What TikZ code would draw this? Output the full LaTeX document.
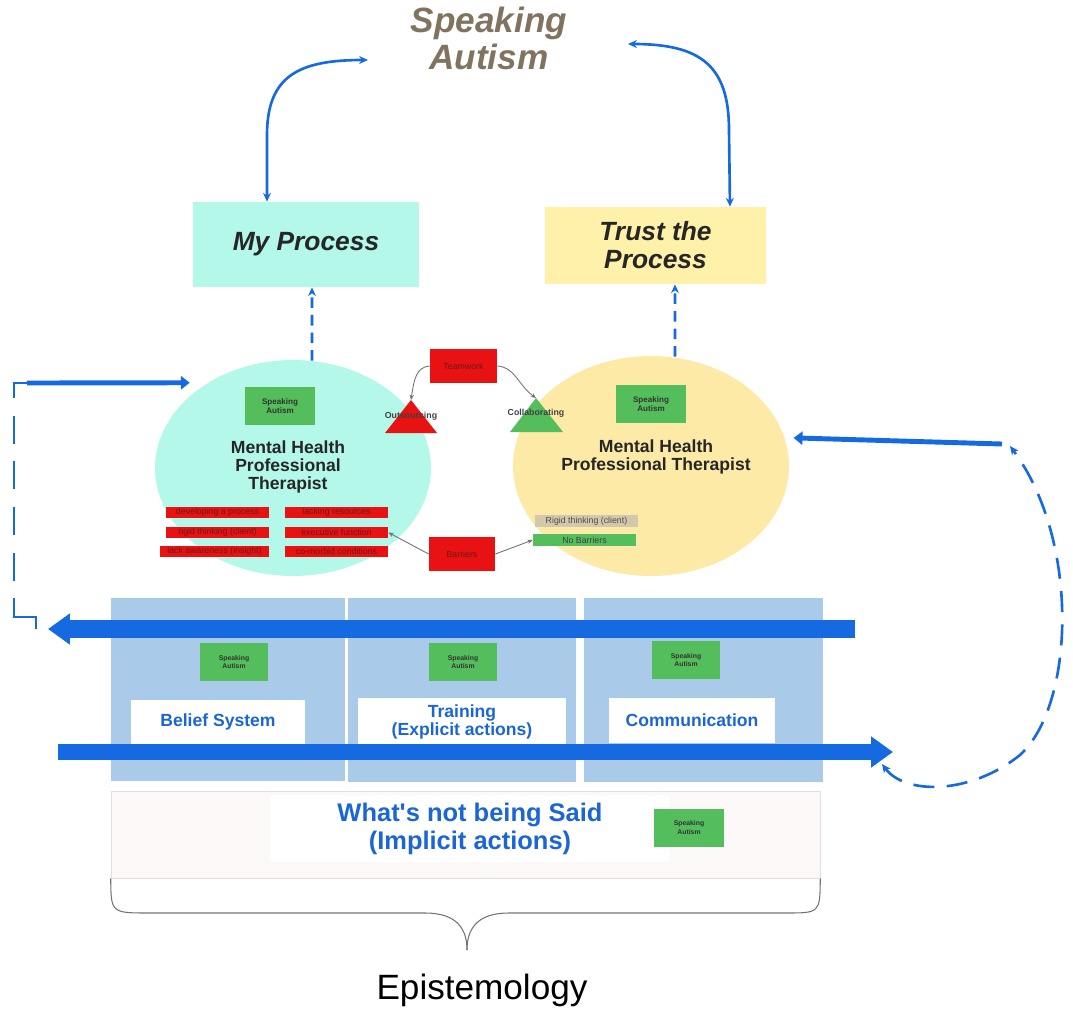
\documentclass[tikz,border=0pt]{standalone}
\usepackage{fontspec}
\setmainfont{Liberation Sans}
\usepackage{xcolor}
\usepackage{tikz}
\usetikzlibrary{arrows.meta,positioning,shapes.geometric,calc}

\definecolor{arrblue}{RGB}{22,106,225}
\definecolor{panelblue}{RGB}{169,203,233}
\definecolor{txtblue}{RGB}{26,102,214}
\definecolor{aqua}{RGB}{180,248,234}
\definecolor{sand}{RGB}{252,234,166}
\definecolor{sandbox}{RGB}{255,240,170}
\definecolor{leaf}{RGB}{84,190,92}
\definecolor{tagred}{RGB}{232,18,18}
\definecolor{tagtext}{RGB}{110,22,22}
\definecolor{khaki}{RGB}{212,200,172}
\definecolor{titlebrown}{RGB}{128,115,95}
\definecolor{pinkwash}{RGB}{252,248,248}

\begin{document}
\begin{tikzpicture}[
    x=0.02cm, y=-0.02cm,
    procbox/.style={rectangle, minimum width=4.52cm, minimum height=1.7cm, align=center, text=black!85, font=\fontsize{15}{16}\selectfont\bfseries\itshape},
    blob/.style={ellipse, minimum width=5.52cm, minimum height=4.32cm},
    sabox/.style={rectangle, fill=leaf, minimum width=1.4cm, minimum height=0.76cm, inner sep=0pt, align=center, text=black!80, font=\fontsize{4.6}{5.2}\selectfont\bfseries},
    tag/.style={rectangle, fill=tagred, minimum width=2.06cm, minimum height=0.22cm, inner sep=0pt, text=tagtext, font=\fontsize{5}{5}\selectfont},
    redbox/.style={rectangle, fill=tagred, minimum width=1.34cm, minimum height=0.68cm, text=tagtext, font=\fontsize{5}{6}\selectfont},
    mhp/.style={align=center, text=black!85, font=\fontsize{10}{10.3}\selectfont\bfseries},
    panel/.style={rectangle, fill=panelblue, minimum height=3.68cm},
    plate/.style={rectangle, fill=white, align=center, text=txtblue, font=\fontsize{10}{10.3}\selectfont\bfseries},
    tri/.style={font=\fontsize{5}{6}\selectfont\bfseries, text=black!75},
    pointer/.style={-{Stealth[length=3pt, width=2.5pt]}, draw=black!55, line width=0.5pt},
    bigarr/.style={draw=arrblue, line width=10pt, -{Triangle[length=12.5pt, width=17pt]}},
    midarr/.style={draw=arrblue, line width=2.8pt, -{Triangle[length=5pt, width=7.5pt]}},
    curvarr/.style={draw=arrblue, line width=1.5pt, {Stealth[length=5pt, width=4.5pt]}-{Stealth[length=5pt, width=4.5pt]}},
    dasharr/.style={draw=arrblue, line width=1.6pt, dash pattern=on 6pt off 4pt, -{Stealth[length=5pt, width=4.5pt]}},
    loopdash/.style={draw=arrblue, line width=1.5pt, dash pattern=on 16pt off 10pt},
    curvedash/.style={draw=arrblue, line width=1.5pt, dash pattern=on 12pt off 7pt, {Stealth[length=5pt, width=4.5pt]}-{Stealth[length=5pt, width=4.5pt]}}
]
  \useasboundingbox (0,0) rectangle (1073,1009);

  \node[panel, minimum width=4.68cm, minimum height=3.66cm] (pBel) at (228,689.5) {};
  \node[panel, minimum width=4.56cm] (pTra) at (462,690) {};
  \node[panel, minimum width=4.78cm] (pCom) at (703.5,690) {};
  \node[sabox, font=\fontsize{3.9}{4.6}\selectfont\bfseries, minimum width=1.36cm] (saBel) at (234,662) {Speaking\\Autism};
  \node[sabox, font=\fontsize{3.9}{4.6}\selectfont\bfseries, minimum width=1.36cm] (saTra) at (463,662) {Speaking\\Autism};
  \node[sabox, font=\fontsize{3.9}{4.6}\selectfont\bfseries, minimum width=1.36cm] (saCom) at (686,660) {Speaking\\Autism};
  \node[plate, minimum width=3.48cm, minimum height=0.88cm] (lBel) at (218,722) {Belief System};
  \node[plate, minimum width=4.16cm, minimum height=0.86cm] (lTra) at (462,721.5) {Training\\(Explicit actions)};
  \node[plate, minimum width=3.32cm, minimum height=0.9cm] (lCom) at (692,720.5) {Communication};

  \node[draw=black!12, fill=pinkwash, minimum width=14.18cm, minimum height=1.74cm] (implicit) at (465.5,834.5) {};
  \node[fill=white, minimum width=8cm, minimum height=1.34cm, align=center, text=txtblue, font=\fontsize{14.5}{16}\selectfont\bfseries] (said) at (470,828.5) {What\textquotesingle s not being Said\\(Implicit actions)};
  \node[sabox, font=\fontsize{3.9}{4.6}\selectfont\bfseries] (saSaid) at (689,827.5) {Speaking\\Autism};

  \draw[black!55, line width=0.6pt] (implicit.south west) .. controls (111,913) .. (150,913) -- (425,913) .. controls (458,913) and (467,930) .. (467,950) coordinate (braceTip);
  \draw[black!55, line width=0.6pt] (implicit.south east) .. controls (820,913) .. (785,913) -- (509,913) .. controls (476,913) and (467,930) .. (braceTip);
  \node[font=\fontsize{20}{22}\selectfont] (epi) at (482,990) {Epistemology};

  \node[blob, fill=aqua] (ellL) at (293,468) {};
  \node[blob, fill=sand, minimum height=4.4cm] (ellR) at (651,466) {};

  \node[procbox, fill=aqua] (myproc) at (306,244.5) {My Process};
  \node[procbox, fill=sandbox, minimum width=4.42cm, minimum height=1.54cm] (trustproc) at (655.5,245.5) {Trust the\\Process};
  \node[align=center, text=titlebrown, font=\fontsize{20}{21}\selectfont\bfseries\itshape] (title) at (489,38) {Speaking\\Autism};

  \node[sabox] (saL) at (280,406) {Speaking\\Autism};
  \node[sabox] (saR) at (651,404) {Speaking\\Autism};
  \node[mhp] (mhL) at (288,467) {Mental Health\\Professional\\Therapist};
  \node[mhp] (mhR) at (656,457) {Mental Health\\Professional Therapist};

  \node[tag] (tDev) at (217.5,512.5) {developing a process};
  \node[tag] (tRes) at (336.5,512.5) {lacking resources};
  \node[tag] (tRig) at (217.5,532.5) {rigid thinking (client)};
  \node[tag] (tExe) at (336.5,532.5) {executive function};
  \node[tag, minimum width=2.18cm] (tLac) at (214.5,551.5) {lack awareness (insight)};
  \node[tag] (tCom) at (336.5,551.5) {co-morbid conditions};

  \node[redbox] (team) at (463.5,366) {Teamwork};
  \node[redbox, minimum width=1.32cm] (barr) at (462,554) {Barriers};
  \fill[tagred] (385,433) -- (411,400) coordinate (outTop) -- (437,433) -- cycle;
  \node[tri] (outL) at (411,416) {Outsourcing};
  \fill[leaf] (510,432) -- (536,398) coordinate (colTop) -- (563,432) -- cycle;
  \node[tri] (colL) at (536,413) {Collaborating};
  \node[tag, fill=khaki, text=black!70, minimum height=0.24cm] (rigC) at (586.5,521) {Rigid thinking (client)};
  \node[tag, fill=leaf, text=black!75, minimum height=0.24cm] (noBar) at (584.5,540) {No Barriers};

  \draw[pointer] (team.west) .. controls (416,367) and (414,380) .. (outTop);
  \draw[pointer] (team.east) .. controls (515,367) and (518,385) .. (colTop);
  \draw[pointer] (barr.west) -- (tExe.east);
  \draw[pointer] (barr.east) -- (noBar.west);

  \coordinate (titleL) at (368,60);
  \coordinate (titleR) at (628,44);
  \draw[curvarr] (titleL) .. controls (300,60) and (267,75) .. (267,135) -- ([xshift=-0.78cm]myproc.north);
  \draw[curvarr] (titleR) .. controls (700,44) and (729,65) .. (729,130) -- ([xshift=1.49cm]trustproc.north);
  \draw[dasharr] ($(ellL.north)+(19,1)$) -- ([xshift=0.12cm]myproc.south);
  \draw[dasharr] ($(ellR.north)+(24,1)$) -- ([xshift=0.39cm]trustproc.south);

  \coordinate (loopL) at (27,383);
  \coordinate (loopR) at (1002,444);
  \draw[midarr, shorten >=0.36cm] (loopL) -- (ellL.135);
  \draw[midarr, shorten >=0.18cm] (loopR) -- (ellR.12);

  \coordinate (bandLs) at (855,629);
  \coordinate (bandLt) at (48,629);
  \coordinate (bandRs) at (58,752);
  \coordinate (bandRt) at (893,752);
  \draw[bigarr] (bandLs) -- (bandLt);
  \draw[bigarr, line width=9pt] (bandRs) -- (bandRt);

  \coordinate (elbow) at (14,603);
  \draw[loopdash] (loopL) -| (elbow);
  \draw[draw=arrblue, line width=1.5pt] (elbow) |- ($(bandLt)+(-12,-12)$) -- ($(bandLt)+(-12,0)$);
  \draw[curvedash] ($(bandRt)+(-11,12)$) .. controls (905,795) and (970,795) .. (1020,755) .. controls (1075,705) and (1080,540) .. ($(loopR)+(8,2)$);
\end{tikzpicture}
\end{document}
